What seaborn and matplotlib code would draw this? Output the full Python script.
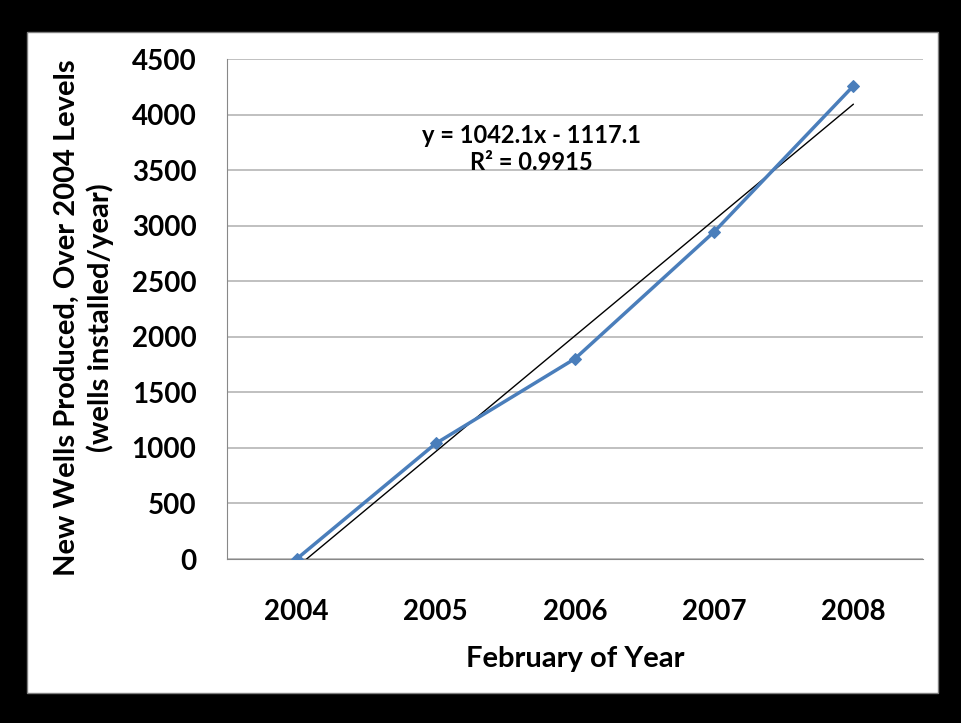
import numpy as np
import pandas as pd
import seaborn as sns
import matplotlib.pyplot as plt
from matplotlib.patches import Rectangle
from matplotlib.ticker import FixedLocator

years = ['2004', '2005', '2006', '2007', '2008']
new_wells = [0, 1040, 1803, 2945, 4258]
y_ticks = [0, 500, 1000, 1500, 2000, 2500, 3000, 3500, 4000, 4500]
trend_label = 'y = 1042.1x - 1117.1\nR² = 0.9915'

sns.set_style('white')
plt.rcParams['font.family'] = ['Lato', 'DejaVu Sans']
plt.rcParams['font.weight'] = 'bold'
plt.rcParams['text.color'] = 'black'
plt.rcParams['xtick.color'] = 'black'
plt.rcParams['ytick.color'] = 'black'

df = pd.DataFrame({'pos': np.arange(len(years)), 'wells': new_wells})

fig = plt.figure(figsize=(9.61, 7.23), dpi=100)
fig.patch.set_facecolor('black')
fig.patches.append(Rectangle((27 / 961, 1 - 693 / 723), 911 / 961, 661 / 723,
                             transform=fig.transFigure, facecolor='white',
                             edgecolor='#808080', lw=1, zorder=-1))

ax = fig.add_axes([227 / 961, 1 - 559 / 723, 696 / 961, 500 / 723])
ax.set_zorder(2)
ax.set_facecolor('none')

# linear trendline (x = 1..5 like the spreadsheet)
xs = np.arange(1, len(years) + 1)
slope, intercept = np.polyfit(xs, new_wells, 1)
ax.plot(df['pos'], slope * xs + intercept, color='black', lw=1, zorder=3)

sns.lineplot(data=df, x='pos', y='wells', ax=ax, color='#4A7EBB', lw=2.5,
             marker='D', markersize=6, markeredgecolor='#4A7EBB', zorder=4)

ax.set_xlim(-0.5, len(years) - 0.5)
ax.set_ylim(0, 4500)
ax.set_yticks(y_ticks)
ax.set_yticklabels([str(t) for t in y_ticks], fontsize=20, fontweight='bold')
ax.set_xticks(df['pos'])
ax.set_xticklabels(years, fontsize=20, fontweight='bold')
ax.xaxis.set_minor_locator(FixedLocator(np.arange(-0.5, len(years), 1.0)))
ax.tick_params(axis='x', which='major', length=0, pad=29)
ax.tick_params(axis='x', which='minor', length=7, color='#888888', width=1, direction='out')
ax.tick_params(axis='y', length=7, color='#888888', labelcolor='black', width=1,
               direction='out', pad=15)
ax.grid(axis='y', color='#b5b5b5', lw=1.2)
ax.set_axisbelow(True)
for s in ['top', 'right']:
    ax.spines[s].set_visible(False)
ax.spines['left'].set_color('#888888')
ax.spines['bottom'].set_color('#888888')
ax.set_xlabel('')
ax.set_ylabel('')

fig.text(575 / 961, 1 - 659 / 723, 'February of Year', ha='center', va='center',
         fontsize=21, fontweight='bold')
fig.text(84 / 961, 1 - 318 / 723,
         'New Wells Produced, Over 2004 Levels\n(wells installed/year)',
         rotation=90, ha='center', va='center', multialignment='center',
         fontsize=21, fontweight='bold', linespacing=1.3)
fig.text(531 / 961, 1 - 149 / 723, trend_label,
         ha='center', va='center', multialignment='center',
         fontsize=17, fontweight='bold', linespacing=1.25, zorder=5)

fig.savefig('out.png', dpi=100, facecolor=fig.get_facecolor())
